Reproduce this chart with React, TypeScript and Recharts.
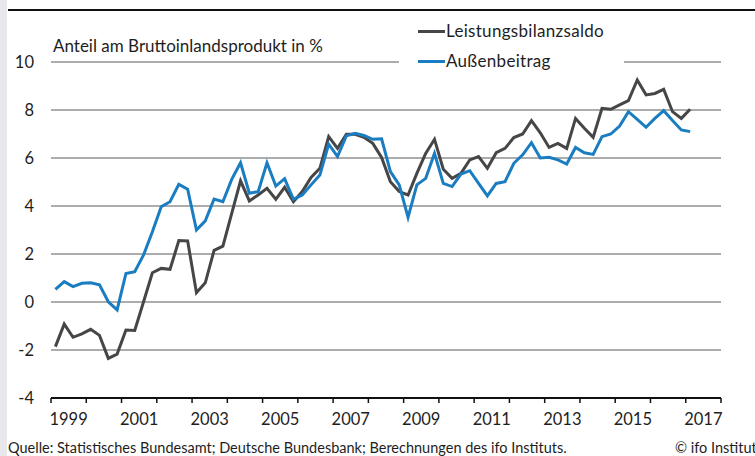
import React from 'react';
import { LineChart, Line, XAxis, YAxis, CartesianGrid, Legend } from 'recharts';

// quarterly values, 1999 Q1 .. 2017 Q1, in % of GDP
const startYear = 1999;
const leistungsbilanzsaldo = [
  -1.86, -0.92, -1.47, -1.33, -1.14, -1.39, -2.35, -2.17,
  -1.17, -1.19, 0.01, 1.22, 1.4, 1.36, 2.56, 2.54,
  0.39, 0.8, 2.15, 2.33, 3.69, 5.05, 4.21, 4.46,
  4.74, 4.28, 4.78, 4.18, 4.6, 5.19, 5.57, 6.89,
  6.4, 6.99, 6.99, 6.86, 6.61, 6.02, 5.01, 4.6,
  4.46, 5.36, 6.19, 6.78, 5.53, 5.15, 5.36, 5.92,
  6.06, 5.57, 6.22, 6.4, 6.85, 7.0, 7.56, 7.05,
  6.44, 6.61, 6.4, 7.65, 7.24, 6.86, 8.07, 8.03,
  8.21, 8.39, 9.25, 8.63, 8.69, 8.86, 7.93, 7.65,
  8.03,
];
const aussenbeitrag = [
  0.53, 0.85, 0.64, 0.78, 0.8, 0.72, 0.01, -0.33,
  1.19, 1.26, 1.96, 2.93, 3.97, 4.18, 4.9, 4.7,
  3.0, 3.38, 4.29, 4.18, 5.11, 5.8, 4.53, 4.6,
  5.8, 4.83, 5.14, 4.28, 4.46, 4.88, 5.29, 6.58,
  6.06, 6.92, 7.03, 6.94, 6.78, 6.8, 5.43, 4.88,
  3.53, 4.88, 5.15, 6.19, 4.94, 4.81, 5.33, 5.47,
  4.94, 4.42, 4.94, 5.01, 5.78, 6.13, 6.64, 6.0,
  6.03, 5.92, 5.75, 6.44, 6.22, 6.15, 6.89, 7.0,
  7.33, 7.93, 7.61, 7.28, 7.65, 7.97, 7.56, 7.17,
  7.1,
];
const yearTicks = [
  1999, 2000, 2001, 2002, 2003, 2004, 2005, 2006, 2007, 2008,
  2009, 2010, 2011, 2012, 2013, 2014, 2015, 2016, 2017, 2018,
];
const labelYears = [1999, 2001, 2003, 2005, 2007, 2009, 2011, 2013, 2015, 2017];
const yTicks = [-4, -2, 0, 2, 4, 6, 8, 10];

const series = [
  { key: 'lb', name: 'Leistungsbilanzsaldo', color: '#464646' },
  { key: 'ab', name: 'Außenbeitrag', color: '#1a7cc1' },
];

const data = leistungsbilanzsaldo.map((v, i) => ({
  t: startYear + Math.floor(i / 4) + ((i % 4) + 0.5) / 4,
  lb: v,
  ab: aussenbeitrag[i],
}));

const W = 755;
const H = 456;
const M = { top: 62, right: 34, bottom: 28, left: 0 };
const Y_W = 51;
const yearPx = (W - M.right - Y_W) / (yearTicks.length - 1);
const FONT = 'Lato, "Open Sans", sans-serif';

const YearTick = (props: any) => {
  const { x, y, payload } = props;
  if (!labelYears.includes(payload.value)) return <g />;
  return (
    <text x={x + yearPx / 2} y={y} dy="0.71em" textAnchor="middle" fill="#1e1e1e" fontSize={16.5} fontFamily={FONT}>
      {payload.value}
    </text>
  );
};

const LegendBox = () => (
  <div style={{ background: '#fff', padding: '0 0 0 19px', fontFamily: FONT, fontSize: 17, letterSpacing: 0.3, color: '#1e1e1e' }}>
    {series.map((s) => (
      <div key={s.key} style={{ display: 'flex', alignItems: 'center', height: 30, lineHeight: '30px' }}>
        <span style={{ display: 'inline-block', width: 27, height: 3, background: s.color, marginRight: 1 }} />
        <span>{s.name}</span>
      </div>
    ))}
  </div>
);

export default function App() {
  return (
    <div style={{ position: 'absolute', left: 0, top: 0, width: W, height: H, background: '#fff', fontFamily: FONT, overflow: 'hidden' }}>
      <div style={{ position: 'absolute', left: 0, top: 0, width: 7, height: H, background: '#e8e8ec' }} />
      <div style={{ position: 'absolute', left: 8, top: 9, width: W - 8, height: 2, background: '#111' }} />
      <div style={{ position: 'absolute', left: 53, top: 36.6, fontSize: 17, lineHeight: '17px', color: '#1e1e1e', whiteSpace: 'nowrap' }}>
        Anteil am Bruttoinlandsprodukt in %
      </div>
      <LineChart width={W} height={H} data={data} margin={M}>
        <CartesianGrid vertical={false} stroke="#5a5a5a" strokeWidth={1} horizontalValues={[-2, 0, 2, 4, 6, 8, 10]} />
        <XAxis
          dataKey="t"
          type="number"
          domain={[1999, 2018]}
          ticks={yearTicks}
          interval={0}
          axisLine={{ stroke: '#111', strokeWidth: 2 }}
          tickLine={{ stroke: '#111', strokeWidth: 1.5 }}
          tickSize={5}
          tickMargin={10}
          tick={<YearTick />}
          height={30}
        />
        <YAxis
          type="number"
          domain={[-4, 10]}
          ticks={yTicks}
          interval={0}
          width={Y_W}
          axisLine={false}
          tickLine={false}
          tickSize={0}
          tickMargin={17}
          tick={{ fill: '#1e1e1e', fontSize: 16.5, fontFamily: FONT }}
        />
        <Legend
          layout="horizontal"
          verticalAlign="middle"
          align="center"
          content={<LegendBox />}
          wrapperStyle={{ left: 399, top: 16.1, width: 225, height: 60 }}
        />
        {series.map((s) => (
          <Line
            key={s.key}
            type="linear"
            dataKey={s.key}
            name={s.name}
            stroke={s.color}
            strokeWidth={3}
            dot={false}
            activeDot={false}
            isAnimationActive={false}
          />
        ))}
      </LineChart>
      <div style={{ position: 'absolute', left: 8, top: 441, fontSize: 14.5, lineHeight: '14.5px', color: '#1e1e1e', whiteSpace: 'nowrap' }}>
        Quelle: Statistisches Bundesamt; Deutsche Bundesbank; Berechnungen des ifo Instituts.
      </div>
      <div style={{ position: 'absolute', left: 675, top: 441, fontSize: 14.5, lineHeight: '14.5px', color: '#1e1e1e', whiteSpace: 'nowrap' }}>
        © ifo Institut
      </div>
    </div>
  );
}
